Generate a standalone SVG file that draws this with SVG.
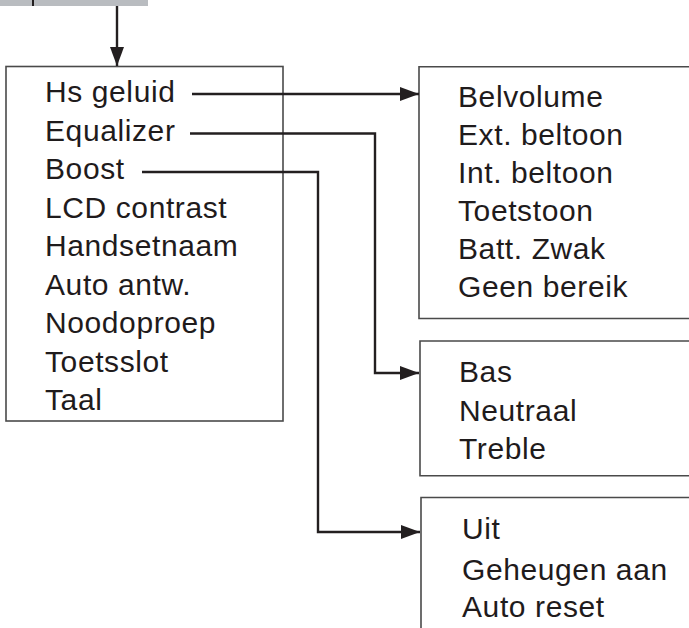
<svg xmlns="http://www.w3.org/2000/svg" width="689" height="628" viewBox="0 0 689 628">
<style>
.t{font-family:"Liberation Sans",Arial,Helvetica,sans-serif;font-size:30px;fill:#1f1b1c;letter-spacing:0.6px}
.box{fill:none;stroke:#4a4a4a;stroke-width:1.6}
.c{fill:none;stroke:#231f20;stroke-width:2.4}
</style>
<defs>
<marker id="ah" markerUnits="userSpaceOnUse" markerWidth="22" markerHeight="16" refX="19" refY="8" orient="auto">
<path d="M0,1 L19,8 L0,15 Z" fill="#231f20"/>
</marker>
</defs>
<g id="top">
<rect x="0" y="0" width="148" height="6" fill="#b9bcc0"/>
<rect x="32" y="0" width="2" height="6" fill="#231f20"/>
</g>
<g id="main">
<rect class="box" x="6" y="66.5" width="277" height="354.5"/>
<text class="t" x="45" y="102">Hs geluid</text>
<text class="t" x="45" y="140.5">Equalizer</text>
<text class="t" x="45" y="179">Boost</text>
<text class="t" x="45" y="217.5">LCD contrast</text>
<text class="t" x="45" y="256">Handsetnaam</text>
<text class="t" x="45" y="294.5">Auto antw.</text>
<text class="t" x="45" y="333">Noodoproep</text>
<text class="t" x="45" y="371.5">Toetsslot</text>
<text class="t" x="45" y="410">Taal</text>
</g>
<g id="hsgeluid">
<path class="box" d="M692,66.7 H419 V318.5 H692"/>
<text class="t" x="458" y="107">Belvolume</text>
<text class="t" x="458" y="145">Ext. beltoon</text>
<text class="t" x="458" y="183">Int. beltoon</text>
<text class="t" x="458" y="221">Toetstoon</text>
<text class="t" x="458" y="259">Batt. Zwak</text>
<text class="t" x="458" y="297">Geen bereik</text>
</g>
<g id="equalizer">
<path class="box" d="M692,341 H420 V475.7 H692"/>
<text class="t" x="459" y="382">Bas</text>
<text class="t" x="459" y="421">Neutraal</text>
<text class="t" x="459" y="459">Treble</text>
</g>
<g id="boost">
<path class="box" d="M692,497.5 H421 V630"/>
<text class="t" x="462" y="539">Uit</text>
<text class="t" x="462" y="580">Geheugen aan</text>
<text class="t" x="462" y="617">Auto reset</text>
</g>
<g id="connectors">
<path class="c" d="M117,6 V66" marker-end="url(#ah)"/>
<path class="c" d="M192,94 H419" marker-end="url(#ah)"/>
<path class="c" d="M190,133.5 H375 V373 H419" marker-end="url(#ah)"/>
<path class="c" d="M142,172 H318 V532 H420" marker-end="url(#ah)"/>
</g>
</svg>
